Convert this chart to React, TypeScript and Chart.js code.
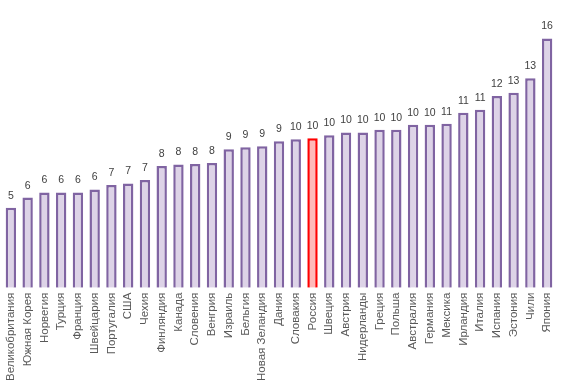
import React, { useEffect, useRef } from "react";
import { Chart, registerables } from "chart.js";

Chart.register(...registerables);

const categories = [
  "Великобритания", "Южная Корея", "Норвегия", "Турция", "Франция", "Швейцария",
  "Португалия", "США", "Чехия", "Финляндия", "Канада", "Словения", "Венгрия",
  "Израиль", "Бельгия", "Новая Зеландия", "Дания", "Словакия", "Россия", "Швеция",
  "Австрия", "Нидерланды", "Греция", "Польша", "Австралия", "Германия", "Мексика",
  "Ирландия", "Италия", "Испания", "Эстония", "Чили", "Япония",
];

const values = [
  5.13, 5.79, 6.12, 6.12, 6.12, 6.31, 6.59, 6.7, 6.92, 7.82, 7.92, 7.95, 8.01,
  8.89, 9.02, 9.08, 9.41, 9.54, 9.6, 9.79, 9.97, 9.97, 10.14, 10.14, 10.46, 10.46,
  10.53, 11.24, 11.43, 12.31, 12.53, 13.45, 16.01,
];

const highlight = "Россия";

const valueLabels = {
  id: "valueLabels",
  afterDatasetsDraw(chart: any) {
    const ctx = chart.ctx;
    const meta = chart.getDatasetMeta(0);
    const ds = chart.data.datasets[0];
    ctx.save();
    ctx.font = '10.5px "Liberation Sans", Arial, sans-serif';
    ctx.fillStyle = "#404040";
    ctx.textAlign = "center";
    ctx.textBaseline = "alphabetic";
    meta.data.forEach((bar: any, i: number) => {
      const v = ds.data[i] as number;
      ctx.fillText(String(Math.round(v)), bar.x, bar.y - 9);
    });
    ctx.restore();
  },
};

export default function App() {
  const ref = useRef<HTMLCanvasElement | null>(null);
  useEffect(() => {
    document.body.style.margin = "0";
    if (!ref.current) return;
    const chart = new Chart(ref.current, {
      type: "bar",
      data: {
        labels: categories,
        datasets: [
          {
            data: values,
            backgroundColor: categories.map((c) => (c === highlight ? "#FFB9B9" : "#DDD3E7")),
            borderColor: categories.map((c) => (c === highlight ? "#FF0000" : "#8064A2")),
            borderWidth: 2.5,
            categoryPercentage: 1,
            barPercentage: 0.62,
          },
        ],
      },
      options: {
        responsive: false,
        animation: false,
        layout: { padding: { left: 2.5, right: 5.5, top: 7.5, bottom: 3 } },
        plugins: { legend: { display: false }, tooltip: { enabled: false } },
        scales: {
          x: {
            grid: { display: false, drawTicks: false },
            border: { display: false },
            ticks: {
              minRotation: 90,
              maxRotation: 90,
              autoSkip: false,
              padding: 5,
              color: "#595959",
              font: { family: '"Liberation Sans", Arial, sans-serif', size: 11.5 },
            },
          },
          y: {
            display: false,
            min: 0,
            max: 18,
          },
        },
      },
      plugins: [valueLabels],
    });
    return () => chart.destroy();
  }, []);
  return (
    <div style={{ width: 566, height: 389 }}>
      <canvas ref={ref} width={566} height={389} style={{ display: "block" }} />
    </div>
  );
}
